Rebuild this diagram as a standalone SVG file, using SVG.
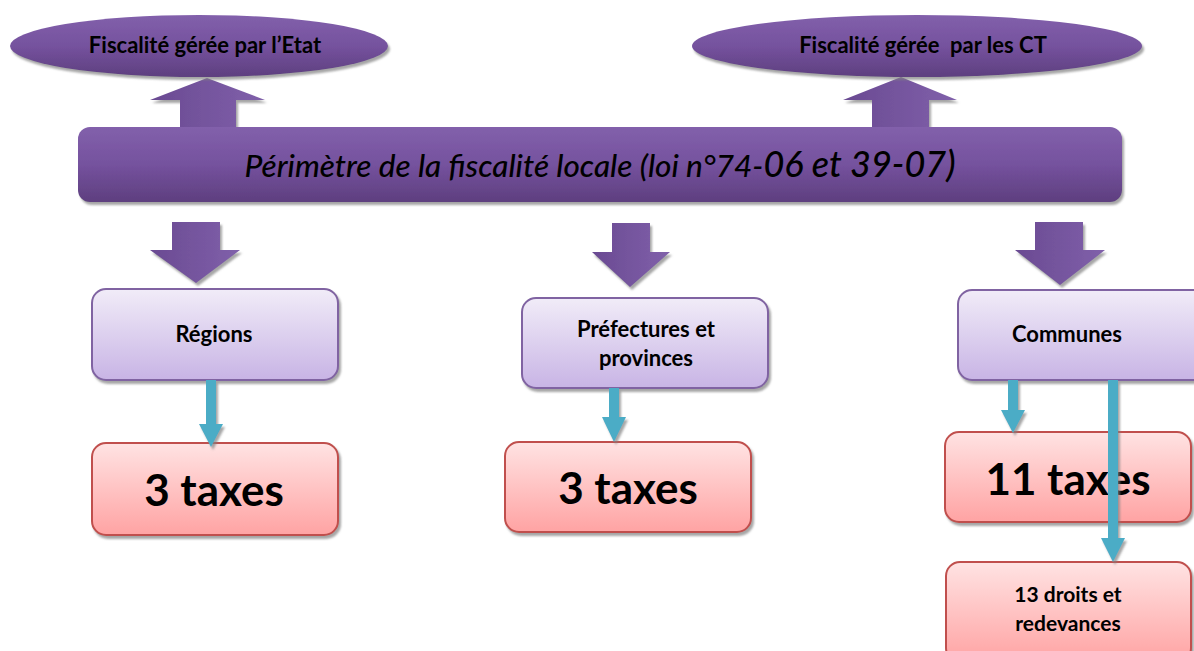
<svg xmlns="http://www.w3.org/2000/svg" width="1194" height="651" viewBox="0 0 1194 651">
<defs>
<linearGradient id="gPurple" x1="0" y1="0" x2="0" y2="1">
<stop offset="0" stop-color="#8260ab"/><stop offset="0.5" stop-color="#75529e"/><stop offset="1" stop-color="#5e3f7f"/>
</linearGradient>
<linearGradient id="gArrow" x1="0" y1="0" x2="1" y2="0">
<stop offset="0" stop-color="#6a4a92"/><stop offset="1" stop-color="#8060aa"/>
</linearGradient>
<linearGradient id="gLav" x1="0" y1="0" x2="0" y2="1">
<stop offset="0" stop-color="#f1ecf8"/><stop offset="1" stop-color="#c8b4e5"/>
</linearGradient>
<linearGradient id="gPink" x1="0" y1="0" x2="0" y2="1">
<stop offset="0" stop-color="#ffe3e3"/><stop offset="1" stop-color="#ffa3a3"/>
</linearGradient>
<filter id="sh" x="-10%" y="-10%" width="130%" height="140%">
<feDropShadow dx="2" dy="3" stdDeviation="1" flood-color="#808080" flood-opacity="0.7"/>
</filter>
</defs>
<style>
.t{font-family:Lato,"Open Sans","Liberation Sans",sans-serif;font-weight:bold;fill:#000;text-anchor:middle}
.it{font-family:Lato,"Open Sans","Liberation Sans",sans-serif;font-style:italic;font-weight:500;fill:#000;text-anchor:middle}
.purple{fill:url(#gPurple);filter:url(#sh)}
.parr{fill:url(#gArrow);filter:url(#sh)}
.lav{fill:url(#gLav);stroke:#8064a2;stroke-width:2;filter:url(#sh)}
.pink{fill:url(#gPink);stroke:#c0504d;stroke-width:2;filter:url(#sh)}
.teal{fill:#4bacc6;filter:url(#sh)}
</style>

<g id="connectors">
<path class="parr" d="M180,128 V100 H150 L207,78 L265,100 H236 V128 Z"/>
<path class="parr" d="M872,128 V100 H843 L901,77 L957,100 H929 V128 Z"/>
<path class="parr" d="M172,222 V250 H150 L196,283 L240,250 H220 V222 Z"/>
<path class="parr" d="M612,223 V252 H592 L630,287 L670,252 H650 V223 Z"/>
<path class="parr" d="M1035,222 V250 H1015 L1060,285 L1105,250 H1083 V222 Z"/>
</g>

<g id="n-etat">
<ellipse class="purple" cx="199" cy="46" rx="189" ry="31"/>
<text class="t" x="205" y="53" font-size="22">Fiscalité gérée par l’Etat</text>
</g>
<g id="n-ct">
<ellipse class="purple" cx="917" cy="46" rx="225" ry="31"/>
<text class="t" x="923" y="53" font-size="22" xml:space="preserve">Fiscalité gérée  par les CT</text>
</g>
<g id="n-perimetre">
<rect class="purple" x="78" y="127" width="1044" height="75" rx="12"/>
<text class="it" x="600" y="177" font-size="31.5">Périmètre de la fiscalité locale (loi n°74-<tspan font-size="36">06 et 39-07)</tspan></text>
</g>

<g id="n-regions">
<rect class="lav" x="92" y="289" width="246" height="91" rx="14"/>
<text class="t" x="214" y="342" font-size="22">Régions</text>
</g>
<g id="n-prefectures">
<rect class="lav" x="522" y="298" width="246" height="90" rx="14"/>
<text class="t" x="646" y="337" font-size="22">Préfectures et</text>
<text class="t" x="646" y="366" font-size="22">provinces</text>
</g>
<g id="n-communes">
<rect class="lav" x="958" y="290" width="250" height="90" rx="14"/>
<text class="t" x="1067" y="342" font-size="22">Communes</text>
</g>

<g id="n-taxes-reg">
<rect class="pink" x="92" y="443" width="246" height="92" rx="14"/>
<text class="t" x="214" y="506" font-size="44">3 taxes</text>
</g>
<g id="n-taxes-pref">
<rect class="pink" x="505" y="442" width="246" height="90" rx="14"/>
<text class="t" x="628" y="504" font-size="44">3 taxes</text>
</g>
<g id="n-taxes-com">
<rect class="pink" x="945" y="432" width="246" height="90" rx="14"/>
<text class="t" x="1068" y="495" font-size="44">11 taxes</text>
</g>
<g id="n-droits">
<rect class="pink" x="946" y="562" width="245" height="100" rx="14"/>
<text class="t" x="1068" y="602" font-size="21">13 droits et</text>
<text class="t" x="1068" y="631" font-size="21">redevances</text>
</g>

<g id="connectors-teal">
<path class="teal" d="M206,380 V424 H199 L211,447 L223,424 H216 V380 Z"/>
<path class="teal" d="M609,388 V417 H602 L614,442 L626,417 H619 V388 Z"/>
<path class="teal" d="M1008,380 V410 H1001 L1013,433 L1025,410 H1018 V380 Z"/>
<path class="teal" d="M1108,380 V538 H1101 L1113,562 L1125,538 H1118 V380 Z"/>
</g>
</svg>
